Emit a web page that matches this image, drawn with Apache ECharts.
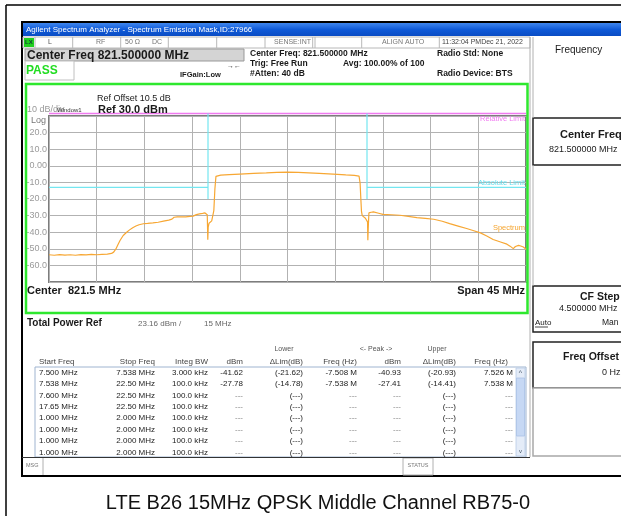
<!DOCTYPE html>
<html>
<head>
<meta charset="utf-8">
<script src="https://cdn.jsdelivr.net/npm/echarts@6/dist/echarts.min.js"></script>
<style>
  html, body { margin: 0; padding: 0; background: #fff; }
  #main { width: 621px; height: 516px; }
</style>
</head>
<body>
<div id="main"></div>
<script>
// spectrum trace, frequency offset from centre (MHz) and level (dBm)
const spectrumFreq = [
  -22.5, -22, -21.5, -21, -20.5, -20, -19.5, -19, -18.5, -18, -17.5, -17, -16.6, -16.4, -16.2,
  -16.0, -15.8, -15.5, -15.2, -14.9, -14.6, -14.3, -14.0, -13.6, -13.2, -12.7, -12.2, -11.7,
  -11.2, -10.9, -10.7, -10.4, -10.0, -9.6, -9.2, -8.9, -8.6, -8.3, -8.0, -7.78, -7.62, -7.57,
  -7.54, -7.52, -7.48, -7.4, -7.3, -7.15, -7.05, -6.95, -6.85, -6.75, -6.6, -6.3, -5.5, -4.5,
  -3.2, -2.0, -1.0, 0.0, 1.0, 2.0, 3.0, 4.3, 5.5, 6.3, 6.75, 6.85, 6.92, 6.98, 7.05, 7.2,
  7.35, 7.5, 7.55, 7.58, 7.62, 7.68, 7.9, 8.1, 8.6, 9.0, 9.8, 10.6, 11.4, 12.2, 13.0, 13.8,
  14.6, 15.3, 16.1, 16.9, 17.5, 18.2, 18.8, 19.4, 20.1, 20.7, 21.0, 21.3, 21.5, 21.8, 22.0,
  22.25, 22.5
];
const spectrumLevel = [
  -53.6, -53.9, -53.5, -53.8, -53.6, -53.9, -53.5, -53.7, -53.4, -53.6, -53.3, -53.2, -52.8, -52.0, -50.2,
  -47.5, -45.0, -42.0, -40.2, -38.6, -37.3, -36.3, -35.5, -34.9, -34.7, -34.4, -34.0, -33.3,
  -32.7, -32.1, -31.0, -30.8, -30.7, -30.8, -30.5, -30.3, -29.4, -29.0, -28.7, -28.4, -28.1, -29.5,
  -38.0, -44.6, -37.0, -34.6, -34.0, -33.2, -32.5, -27.0, -14.0, -6.4, -5.9, -5.6, -5.3, -5.0,
  -4.6, -4.3, -4.0, -3.8, -4.0, -4.3, -4.6, -5.0, -5.5, -5.8, -6.2, -10.5, -20.0, -27.5, -30.0, -30.8,
  -31.6, -32.6, -33.8, -44.8, -37.0, -28.4, -28.0, -27.8, -28.6, -29.3, -29.5, -29.8, -30.5, -31.2, -31.7, -32.2,
  -33.4, -34.8, -36.3, -37.8, -39.0, -40.4, -42.3, -44.4, -45.9, -47.2, -48.4, -49.9, -48.6, -47.9, -48.3,
  -48.9, -50.3
];
// emission mask limits
const absLimitFreqLeft = [-22.5, -7.5, -7.5, -7.5];
const absLimitFreqRight = [22.5, 7.5, 7.5, 7.5];
const absLimitLevel = [-13, -13, -20, 31.5];
const relLimitFreq = [-22.5, 22.5];
const relLimitLevel = [31.5, 31.5];

const yTickLabels = { 20: '20.0', 10: '10.0', 0: '0.00', '-10': '-10.0', '-20': '-20.0',
  '-30': '-30.0', '-40': '-40.0', '-50': '-50.0', '-60': '-60.0' };

// result table
const colStart = ['7.500 MHz', '7.538 MHz', '7.600 MHz', '17.65 MHz', '1.000 MHz', '1.000 MHz', '1.000 MHz', '1.000 MHz'];
const colStop = ['7.538 MHz', '22.50 MHz', '22.50 MHz', '22.50 MHz', '2.000 MHz', '2.000 MHz', '2.000 MHz', '2.000 MHz'];
const colBW = ['3.000 kHz', '100.0 kHz', '100.0 kHz', '100.0 kHz', '100.0 kHz', '100.0 kHz', '100.0 kHz', '100.0 kHz'];
const colLowDbm = ['-41.62', '-27.78', '---', '---', '---', '---', '---', '---'];
const colLowDelta = ['(-21.62)', '(-14.78)', '(---)', '(---)', '(---)', '(---)', '(---)', '(---)'];
const colLowFreq = ['-7.508 M', '-7.538 M', '---', '---', '---', '---', '---', '---'];
const colPeakDbm = ['-40.93', '-27.41', '---', '---', '---', '---', '---', '---'];
const colUpDelta = ['(-20.93)', '(-14.41)', '(---)', '(---)', '(---)', '(---)', '(---)', '(---)'];
const colUpFreq = ['7.526 M', '7.538 M', '---', '---', '---', '---', '---', '---'];

const FONT = '"Liberation Sans", Arial, sans-serif';

function txt(x, y, text, size, opt) {
  opt = opt || {};
  return {
    type: 'text', x: x, y: y, z: 50, silent: true,
    style: {
      text: text, fill: opt.color || '#1a1a1a',
      font: (opt.bold ? 'bold ' : '') + size + 'px ' + FONT,
      align: opt.align || 'left', verticalAlign: 'middle'
    }
  };
}
function rect(x, y, w, h, fill, stroke, lw) {
  return {
    type: 'rect', z: 1, silent: true, shape: { x: x, y: y, width: w, height: h },
    style: { fill: fill || 'none', stroke: stroke || 'none', lineWidth: lw || 1 }
  };
}
function line(x1, y1, x2, y2, stroke, lw) {
  return {
    type: 'line', z: 2, silent: true, shape: { x1: x1, y1: y1, x2: x2, y2: y2 },
    style: { stroke: stroke, lineWidth: lw || 1 }
  };
}

const g = [];
// outer frame and screenshot border
g.push(line(6, 5, 621, 5, '#000', 1.5), line(6, 5, 6, 516, '#000', 1.5));
g.push(rect(22, 22, 620, 454, 'none', '#000', 2));
// title bar
g.push({
  type: 'rect', z: 1, silent: true, shape: { x: 23, y: 23, width: 600, height: 13 },
  style: { fill: new echarts.graphic.LinearGradient(0, 0, 0, 1, [
    { offset: 0, color: '#3f86ee' }, { offset: 0.5, color: '#0f5ad8' }, { offset: 1, color: '#0a4cc4' }]) }
});
g.push(txt(26, 30, 'Agilent Spectrum Analyzer - Spectrum Emission Mask,ID:27966', 8, { color: '#fff' }));
// status row
g.push(rect(23, 37, 507, 11, '#fff', '#b8b8b8', 1));
[35, 72.7, 120.7, 168.3, 216.7, 265, 312.7, 315, 361.7, 439.3].forEach(function (x) {
  g.push(line(x, 37, x, 48, '#b8b8b8', 1));
});
g.push(rect(24, 38, 10, 9, '#1fd01f'));
g.push(txt(25, 42.5, 'LX', 6, { color: '#143', bold: true }));
g.push(txt(48, 42.5, 'L', 7, { color: '#555' }));
g.push(txt(96, 42.5, 'RF', 7, { color: '#777' }));
g.push(txt(125, 42.5, '50 Ω', 7, { color: '#777' }));
g.push(txt(152, 42.5, 'DC', 7, { color: '#777' }));
g.push(txt(311, 42.5, 'SENSE:INT', 7, { color: '#777', align: 'right' }));
g.push(txt(382, 42.5, 'ALIGN AUTO', 7, { color: '#777' }));
g.push(txt(442, 42.5, '11:32:04 PMDec 21, 2022', 7, { color: '#444' }));
// centre freq box and PASS
g.push(rect(25, 49, 219, 12, '#d4d4d4', '#999', 1));
g.push(txt(27, 55.5, 'Center Freq 821.500000 MHz', 12, { bold: true }));
g.push(rect(25, 61, 49, 19, '#fff', '#c0c0c0', 1));
g.push(txt(26, 71, 'PASS', 12, { bold: true, color: '#22dd22' }));
g.push(txt(180, 75, 'IFGain:Low', 7.5, { bold: true }));
g.push(txt(227, 66.5, '→←', 7, { color: '#333' }));
g.push(txt(250, 53.5, 'Center Freq: 821.500000 MHz', 8.5, { bold: true }));
g.push(txt(250, 63.5, 'Trig: Free Run', 8.5, { bold: true }));
g.push(txt(250, 73.5, '#Atten: 40 dB', 8.5, { bold: true }));
g.push(txt(343, 63.5, 'Avg: 100.00% of 100', 8.5, { bold: true }));
g.push(txt(437, 53.5, 'Radio Std: None', 8.5, { bold: true }));
g.push(txt(437, 73.5, 'Radio Device: BTS', 8.5, { bold: true }));
// green plot window
g.push(rect(26, 84, 501.5, 229, 'none', '#2ee82e', 2.5));
g.push(txt(97, 99, 'Ref Offset 10.5 dB', 9));
g.push(txt(27, 109.5, '10 dB/div', 9, { color: '#999' }));
g.push(txt(57, 110, 'Window1', 6, { color: '#333' }));
g.push(txt(98, 109.5, 'Ref 30.0 dBm', 11, { bold: true }));
g.push(txt(31, 120.5, 'Log', 9, { color: '#777' }));
g.push(txt(525, 118.5, 'Relative Limit', 7.5, { color: '#f07af0', align: 'right' }));
g.push(txt(525, 182.5, 'Absolute Limit', 7.5, { color: '#62dcea', align: 'right' }));
g.push(txt(525, 228, 'Spectrum', 7.5, { color: '#f5a530', align: 'right' }));
g.push(txt(27, 290.5, 'Center  821.5 MHz', 11, { bold: true }));
g.push(txt(525, 290.5, 'Span 45 MHz', 11, { bold: true, align: 'right' }));
// right soft-key panel
g.push(line(530, 37, 530, 457, '#b0b0b0', 1));
g.push(line(533, 37, 533, 118, '#b0b0b0', 1));
g.push(txt(555, 50, 'Frequency', 10));
g.push(rect(533, 118, 100, 47, '#fff', '#222', 1.5));
g.push(txt(560, 134.5, 'Center Freq', 11, { bold: true }));
g.push(txt(549, 150, '821.500000 MHz', 9));
g.push(line(533, 165, 533, 286, '#b0b0b0', 1));
g.push(rect(533, 286, 100, 46, '#fff', '#222', 1.5));
g.push(txt(580, 297, 'CF Step', 10.5, { bold: true }));
g.push(txt(559, 309, '4.500000 MHz', 9));
g.push(txt(535, 322.5, 'Auto', 8));
g.push(line(535, 327, 548, 327, '#1a1a1a', 0.8));
g.push(txt(602, 322.5, 'Man', 8.5));
g.push(rect(533, 342, 100, 46, '#fff', '#222', 1.5));
g.push(txt(563, 357, 'Freq Offset', 10.5, { bold: true }));
g.push(txt(602, 373, '0 Hz', 9));
g.push(rect(533, 388, 100, 68, '#fff', '#a8a8a8', 1.5));
// total power
g.push(txt(27, 323.5, 'Total Power Ref', 10, { bold: true }));
g.push(txt(138, 323.5, '23.16 dBm /', 8, { color: '#666' }));
g.push(txt(204, 323.5, '15 MHz', 8, { color: '#666' }));
// table headers
const hy = 361.5;
g.push(txt(284, 349, 'Lower', 7, { color: '#555', align: 'center' }));
g.push(txt(376, 349, '<- Peak ->', 7, { color: '#555', align: 'center' }));
g.push(txt(437, 349, 'Upper', 7, { color: '#555', align: 'center' }));
g.push(txt(39, hy, 'Start Freq', 8, { color: '#444' }));
g.push(txt(155, hy, 'Stop Freq', 8, { color: '#444', align: 'right' }));
g.push(txt(208, hy, 'Integ BW', 8, { color: '#444', align: 'right' }));
g.push(txt(243, hy, 'dBm', 8, { color: '#444', align: 'right' }));
g.push(txt(303, hy, 'ΔLim(dB)', 8, { color: '#444', align: 'right' }));
g.push(txt(357, hy, 'Freq (Hz)', 8, { color: '#444', align: 'right' }));
g.push(txt(401, hy, 'dBm', 8, { color: '#444', align: 'right' }));
g.push(txt(456, hy, 'ΔLim(dB)', 8, { color: '#444', align: 'right' }));
g.push(txt(508, hy, 'Freq (Hz)', 8, { color: '#444', align: 'right' }));
// table body
g.push(rect(35, 367, 491, 90, '#fff', '#9fb4d0', 1));
g.push(rect(516, 368, 9, 88, '#e4ecf8', '#b8cbe6', 0.8));
g.push(rect(516.5, 378, 8, 58, '#c6d8f4', '#a9c1e6', 0.8));
g.push(txt(520.5, 373, '^', 7, { color: '#456', align: 'center' }));
g.push(txt(520.5, 451, 'v', 6, { color: '#456', align: 'center' }));
const cols = [
  [colStart, 39, 'left'], [colStop, 155, 'right'], [colBW, 208, 'right'], [colLowDbm, 243, 'right'],
  [colLowDelta, 303, 'right'], [colLowFreq, 357, 'right'], [colPeakDbm, 401, 'right'],
  [colUpDelta, 456, 'right'], [colUpFreq, 513, 'right']
];
colStart.forEach(function (_, i) {
  const y = 372.5 + i * 11.4;
  cols.forEach(function (c) {
    const s = c[0][i];
    g.push(txt(c[1], y, s, 8, { color: s === '---' ? '#888' : '#222', align: c[2] }));
  });
});
// message bar
g.push(line(22, 457.5, 530, 457.5, '#333', 1.2));
g.push(line(43, 458, 43, 475, '#b0b0b0', 1));
g.push(txt(26, 465.5, 'MSG', 5.5, { color: '#777' }));
g.push(rect(403, 458, 30, 17, 'none', '#b0b0b0', 1));
g.push(txt(418, 465.5, 'STATUS', 5.5, { color: '#777', align: 'center' }));
// caption
g.push(txt(318, 503, 'LTE B26 15MHz QPSK Middle Channel RB75-0', 20, { color: '#111', align: 'center' }));

function pairs(xs, ys) { return xs.map(function (x, i) { return [x, ys[i]]; }); }

const myChart = echarts.init(document.getElementById('main'), null, { renderer: 'canvas' });
const option = {
  animation: false,
  grid: {
    left: 49, top: 116, width: 477, height: 166, show: true,
    backgroundColor: '#fff', borderColor: '#7d7d7d', borderWidth: 2
  },
  xAxis: {
    type: 'value', min: -22.5, max: 22.5, interval: 4.5,
    axisLabel: { show: false }, axisTick: { show: false }, axisLine: { show: false },
    splitLine: { lineStyle: { color: '#b2b2b2', width: 1 } }
  },
  yAxis: {
    type: 'value', min: -70, max: 30, interval: 10,
    axisTick: { show: false }, axisLine: { show: false },
    axisLabel: {
      margin: 2, color: '#9a9a9a', fontSize: 9, fontFamily: FONT,
      formatter: function (v) { return yTickLabels[v] || ''; }
    },
    splitLine: { lineStyle: { color: '#b2b2b2', width: 1 } }
  },
  series: [
    {
      type: 'line', name: 'Relative Limit', data: pairs(relLimitFreq, relLimitLevel),
      symbol: 'none', clip: false, silent: true, z: 3,
      lineStyle: { color: '#f07af0', width: 1.5 }
    },
    {
      type: 'line', name: 'Absolute Limit L', data: pairs(absLimitFreqLeft, absLimitLevel),
      symbol: 'none', clip: false, silent: true, z: 3,
      lineStyle: { color: '#74e6f0', width: 1.2 }
    },
    {
      type: 'line', name: 'Absolute Limit R', data: pairs(absLimitFreqRight, absLimitLevel),
      symbol: 'none', clip: false, silent: true, z: 3,
      lineStyle: { color: '#74e6f0', width: 1.2 }
    },
    {
      type: 'line', name: 'Spectrum', data: pairs(spectrumFreq, spectrumLevel),
      symbol: 'none', silent: true, z: 5,
      lineStyle: { color: '#f7a733', width: 1.2 }
    }
  ],
  graphic: g
};
myChart.setOption(option);
</script>
</body>
</html>
